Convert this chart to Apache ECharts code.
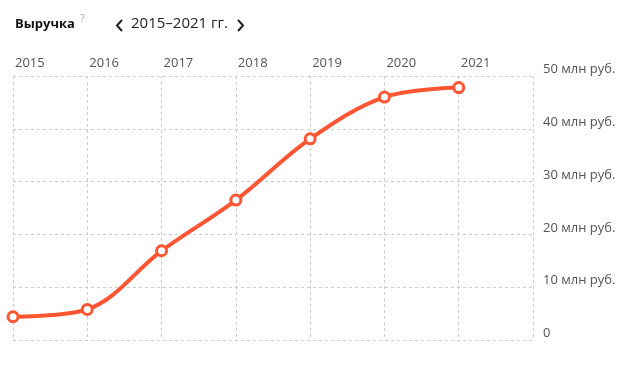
<!DOCTYPE html>
<html><head><meta charset="utf-8">
<script src="https://cdn.jsdelivr.net/npm/echarts@6/dist/echarts.min.js"></script>
<style>html,body{margin:0;padding:0;background:#fff}#c{width:629px;height:365px}</style>
</head><body><div id="c"></div>
<script>
const years = [2015, 2016, 2017, 2018, 2019, 2020, 2021];
const revenue = [4.4, 5.8, 16.9, 26.5, 38.1, 46.0, 47.8];
const yTicks = [0, 10, 20, 30, 40, 50];
const titleText = 'Выручка';
const rangeText = '2015–2021 гг.';
const font = '"Open Sans", "Noto Sans", sans-serif';

const chart = echarts.init(document.getElementById('c'), null, {renderer: 'canvas'});
chart.setOption({
  animation: false,
  grid: {left: 13, right: 96, top: 76, bottom: 25},
  graphic: [
    {type: 'text', left: 15, top: 18, style: {text: titleText, font: 'bold 13px ' + font, fill: '#111'}},
    {type: 'text', left: 80, top: 13, style: {text: '?', font: '11px ' + font, fill: '#aaa'}},
    {type: 'polyline', shape: {points: [[122, 20], [117, 25.5], [122, 31]]}, style: {stroke: '#222', lineWidth: 2, fill: null}},
    {type: 'text', left: 131, top: 16, style: {text: rangeText, font: '15px ' + font, fill: '#222'}},
    {type: 'polyline', shape: {points: [[238, 20], [243, 25.5], [238, 31]]}, style: {stroke: '#222', lineWidth: 2, fill: null}}
  ],
  xAxis: {
    type: 'value', position: 'top', min: 2015, max: 2022, interval: 1,
    axisLine: {show: false}, axisTick: {show: false},
    axisLabel: {
      color: '#555', fontSize: 13, fontFamily: font, margin: 6, align: 'left', padding: [0, 0, 0, 2],
      formatter: v => (v <= 2021 ? String(v) : '')
    },
    splitLine: {show: true, lineStyle: {color: '#ccc', type: [3, 3], width: 1}}
  },
  yAxis: {
    type: 'value', position: 'right', min: 0, max: 50, interval: 10,
    axisLine: {show: false}, axisTick: {show: false},
    axisLabel: {
      color: '#555', fontSize: 13, fontFamily: font, margin: 10, align: 'left', verticalAlign: 'bottom',
      formatter: v => (v === 0 ? '0' : v + ' млн руб.')
    },
    splitLine: {show: true, lineStyle: {color: '#ccc', type: [3, 3], width: 1}}
  },
  series: [{
    type: 'line',
    data: years.map((y, i) => [y, revenue[i]]),
    smooth: 0.35,
    symbol: 'circle', symbolSize: 10,
    lineStyle: {color: '#ff5533', width: 4},
    itemStyle: {color: '#fff', borderColor: '#ff5533', borderWidth: 3}
  }]
});
</script></body></html>
